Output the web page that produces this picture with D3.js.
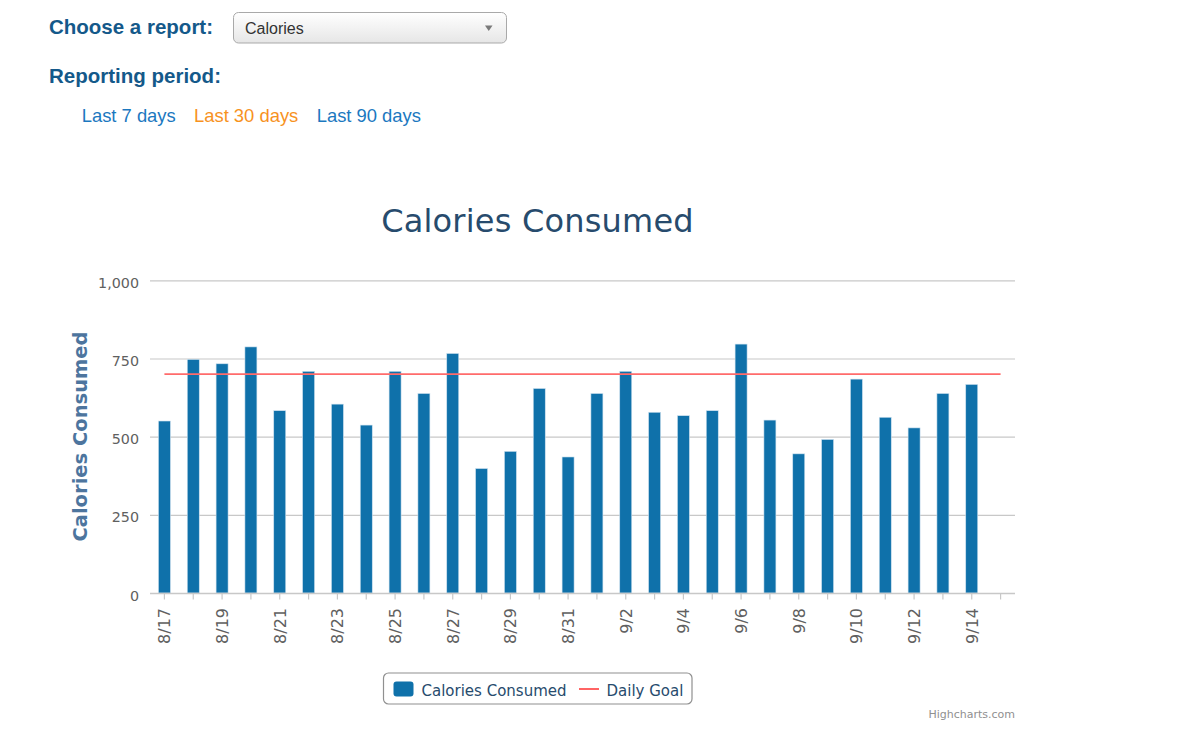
<!DOCTYPE html>
<html>
<head>
<meta charset="utf-8">
<script src="https://cdn.jsdelivr.net/npm/d3@7/dist/d3.min.js"></script>
<style>
  html, body { margin: 0; padding: 0; background: #ffffff; }
  svg { display: block; }
</style>
</head>
<body>
<svg id="chart" width="1200" height="756"></svg>
<script>
// ---------------- DATA ----------------
const categories = ["8/17","8/18","8/19","8/20","8/21","8/22","8/23","8/24","8/25","8/26",
                    "8/27","8/28","8/29","8/30","8/31","9/1","9/2","9/3","9/4","9/5",
                    "9/6","9/7","9/8","9/9","9/10","9/11","9/12","9/13","9/14","9/15"];
const caloriesConsumed = [550, 747, 733, 787, 583, 709, 604, 537, 709, 638,
                          766, 398, 453, 654, 435, 638, 709, 578, 567, 583,
                          796, 553, 445, 491, 684, 562, 528, 638, 667, null];
const dailyGoal = 700;
const yTicks = [0, 250, 500, 750, 1000];
const reportOptions = ["Calories"];
const periodLinks = ["Last 7 days", "Last 30 days", "Last 90 days"];
const activePeriod = "Last 30 days";
const chartTitle = "Calories Consumed";
const yAxisTitle = "Calories Consumed";
const legendItems = ["Calories Consumed", "Daily Goal"];

// ---------------- STYLE ----------------
const barColor = "#0f71aa";
const goalColor = "#ff6b6b";
const headColor = "#14598a";
const linkBlue = "#1b78bf";
const linkOrange = "#f7921e";
const chartFont = "'DejaVu Sans', Verdana, sans-serif";
const uiFont = "'Liberation Sans', Arial, Helvetica, sans-serif";

const svg = d3.select("#chart");

// ---------------- TOP UI ----------------
const defs = svg.append("defs");
const grad = defs.append("linearGradient").attr("id", "selGrad")
  .attr("x1", 0).attr("y1", 0).attr("x2", 0).attr("y2", 1);
grad.append("stop").attr("offset", "0%").attr("stop-color", "#ffffff");
grad.append("stop").attr("offset", "100%").attr("stop-color", "#e6e6e6");

svg.append("text").attr("x", 49).attr("y", 33.5)
  .attr("font-family", uiFont).attr("font-weight", "bold").attr("font-size", 20.5)
  .attr("fill", headColor).text("Choose a report:");

svg.append("rect").attr("x", 233.5).attr("y", 12.5).attr("width", 273).attr("height", 30.5)
  .attr("rx", 5).attr("fill", "url(#selGrad)").attr("stroke", "#a9a9a9");
svg.append("text").attr("x", 245).attr("y", 33.5)
  .attr("font-family", uiFont).attr("font-size", 16).attr("fill", "#333333")
  .text(reportOptions[0]);
svg.append("path").attr("d", "M485,25.5 L492.5,25.5 L488.75,31 Z").attr("fill", "#7a7a7a");

svg.append("text").attr("x", 49).attr("y", 83)
  .attr("font-family", uiFont).attr("font-weight", "bold").attr("font-size", 20.5)
  .attr("fill", headColor).text("Reporting period:");

const linkX = [81.7, 194, 316.7];
svg.selectAll("text.period").data(periodLinks).join("text")
  .attr("class", "period")
  .attr("x", (d, i) => linkX[i]).attr("y", 121.5)
  .attr("font-family", uiFont).attr("font-size", 18.4)
  .attr("fill", d => d === activePeriod ? linkOrange : linkBlue)
  .text(d => d);

// ---------------- CHART ----------------
const plot = { left: 150, right: 1015, top: 280.3, bottom: 593 };

const x = d3.scaleBand().domain(categories).range([plot.left, plot.right]).paddingInner(0).paddingOuter(0);
const y = d3.scaleLinear().domain([0, 1000]).range([plot.bottom, plot.top]);
const barW = 12;

// title
svg.append("text").attr("x", 537.5).attr("y", 232)
  .attr("text-anchor", "middle").attr("font-family", chartFont)
  .attr("font-size", 32).attr("letter-spacing", 0.2).attr("fill", "#274b6d")
  .text(chartTitle);

// gridlines (y axis)
const yAxis = d3.axisLeft(y).tickValues(yTicks).tickSize(plot.right - plot.left)
  .tickFormat(d3.format(","));
const gy = svg.append("g").attr("transform", `translate(${plot.right},0)`).call(yAxis);
gy.select(".domain").remove();
gy.selectAll(".tick line").attr("stroke", "#c8c8c8").attr("stroke-width", 1.2);
gy.selectAll(".tick text")
  .attr("x", -(plot.right - plot.left) - 11)
  .attr("dy", "0.32em")
  .attr("transform", "translate(0,2.5)")
  .attr("font-family", chartFont).attr("font-size", 14.3).attr("fill", "#606060");

// y axis title
svg.append("text")
  .attr("transform", `translate(87,436.5) rotate(-90)`)
  .attr("text-anchor", "middle").attr("font-family", chartFont)
  .attr("font-weight", "bold").attr("font-size", 19.5).attr("fill", "#4d759e")
  .text(yAxisTitle);

// bars
svg.append("g").selectAll("rect").data(categories.map((c, i) => ({ c, v: caloriesConsumed[i] })).filter(d => d.v != null))
  .join("rect")
  .attr("x", d => x(d.c) + x.bandwidth() / 2 - barW / 2)
  .attr("y", d => y(d.v))
  .attr("width", barW)
  .attr("height", d => y(0) - y(d.v))
  .attr("fill", barColor)
  .attr("stroke", "#cfe2ef").attr("stroke-width", 0.6);

// x axis
const xAxis = d3.axisBottom(x).tickSizeOuter(0).tickSize(6.5)
  .tickFormat((d, i) => i % 2 === 0 && i < categories.length - 1 ? d : "");
const gx = svg.append("g").attr("transform", `translate(0,${plot.bottom})`).call(xAxis);
gx.select(".domain").attr("d", `M${plot.left},0.5H${plot.right}`).attr("stroke", "#c8c8c8").attr("stroke-width", 1.3);
gx.selectAll(".tick line").attr("stroke", "#c8c8c8").attr("stroke-width", 1.2);
gx.selectAll(".tick text")
  .attr("transform", "translate(5.8,15) rotate(-90)")
  .attr("x", 0).attr("y", 0).attr("dy", 0)
  .attr("text-anchor", "end")
  .attr("font-family", chartFont).attr("font-size", 16).attr("fill", "#606060");

// daily goal line
const goalLine = d3.line().x(d => x(d) + x.bandwidth() / 2).y(() => y(dailyGoal));
svg.append("path").datum([categories[0], categories[categories.length - 1]])
  .attr("d", goalLine).attr("fill", "none")
  .attr("stroke", goalColor).attr("stroke-width", 1.6);

// legend
const lg = svg.append("g");
lg.append("rect").attr("x", 383.5).attr("y", 673).attr("width", 308.5).attr("height", 31)
  .attr("rx", 5).attr("fill", "#ffffff").attr("stroke", "#909090").attr("stroke-width", 1.2);
lg.append("rect").attr("x", 393.5).attr("y", 681.5).attr("width", 20).attr("height", 15)
  .attr("rx", 3).attr("fill", barColor);
lg.append("text").attr("x", 421.5).attr("y", 696)
  .attr("font-family", chartFont).attr("font-size", 15).attr("fill", "#274b6d")
  .text(legendItems[0]);
lg.append("line").attr("x1", 579).attr("x2", 599).attr("y1", 689).attr("y2", 689)
  .attr("stroke", "#ff3030").attr("stroke-width", 1.5);
lg.append("text").attr("x", 606.5).attr("y", 696)
  .attr("font-family", chartFont).attr("font-size", 15).attr("fill", "#274b6d")
  .text(legendItems[1]);

// credits
svg.append("text").attr("x", 1015).attr("y", 717.5).attr("text-anchor", "end")
  .attr("font-family", chartFont).attr("font-size", 11).attr("fill", "#909090")
  .text("Highcharts.com");
</script>
</body>
</html>
